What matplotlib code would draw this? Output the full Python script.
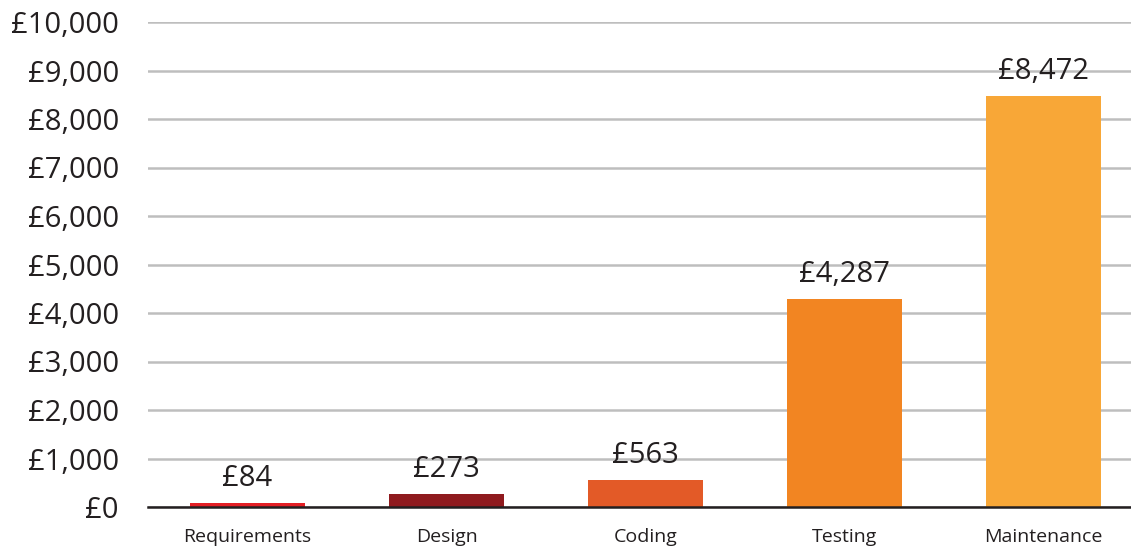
import matplotlib
matplotlib.use("Agg")
import matplotlib.pyplot as plt
from matplotlib.ticker import FuncFormatter

categories = ["Requirements", "Design", "Coding", "Testing", "Maintenance"]
costs = [84, 273, 563, 4287, 8472]
colors = ["#E31E24", "#8F1A1E", "#E35A27", "#F28522", "#F8A737"]
yticks = list(range(0, 10001, 1000))

plt.rcParams['font.family'] = ['Open Sans', 'DejaVu Sans']
text_color = "#231F20"

fig = plt.figure(figsize=(11.31, 5.47), dpi=100)
W, H = 1131, 547
left = 148
right = left + 995
y0, y10 = 507, 22
ax = fig.add_axes([left / W, 1 - y0 / H, (right - left) / W, (y0 - y10) / H])

x = list(range(len(categories)))
bars = ax.bar(x, costs, width=0.573, color=colors, zorder=3)
ax.set_xlim(-0.5, 4.5)
ax.set_ylim(0, 10000)
ax.set_yticks(yticks)
ax.yaxis.set_major_formatter(FuncFormatter(lambda v, p: "£{:,.0f}".format(v)))
ax.set_xticks(x)
ax.set_xticklabels(categories)
ax.tick_params(axis='y', length=0, labelsize=21, colors=text_color, pad=21)
ax.tick_params(axis='x', length=0, labelsize=14, colors=text_color, pad=15)
ax.grid(axis='y', color="#BEBEBE", linewidth=1.8, zorder=0)
for s in ["top", "right", "left"]:
    ax.spines[s].set_visible(False)
ax.spines["bottom"].set_color(text_color)
ax.spines["bottom"].set_linewidth(1.8)
ax.spines["bottom"].set_zorder(4)

for xi, v in zip(x, costs):
    ax.annotate("£{:,}".format(v), (xi, v), xytext=(0, 7), textcoords="offset points",
                ha="center", va="bottom", fontsize=21, color=text_color, zorder=5)

fig.savefig("out.png", dpi=100)
